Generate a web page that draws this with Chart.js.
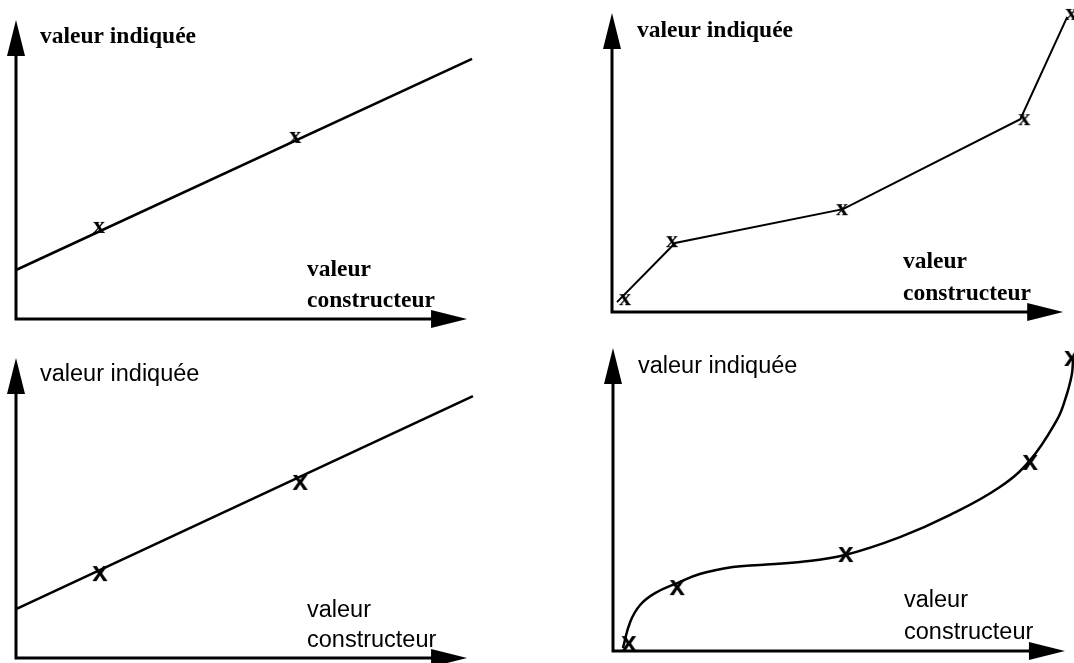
<!DOCTYPE html>
<html>
<head>
<meta charset="utf-8">
<script src="https://cdn.jsdelivr.net/npm/chart.js@4"></script>
<style>
  html, body { margin: 0; padding: 0; background: #fff; overflow: hidden; }
  #wrap { position: relative; width: 1074px; height: 663px; }
  canvas { position: absolute; }
</style>
</head>
<body>
<div id="wrap">
  <canvas id="c1" width="537" height="331" style="left:0;top:0"></canvas>
  <canvas id="c2" width="537" height="331" style="left:537px;top:0"></canvas>
  <canvas id="c3" width="537" height="332" style="left:0;top:331px"></canvas>
  <canvas id="c4" width="537" height="332" style="left:537px;top:331px"></canvas>
</div>
<script>
// Axis texts
const yTitle = 'valeur indiquée';
const xTitle = ['valeur', 'constructeur'];

// where the arrow heads sit (axis units)
const arrowTip = [100, 100];

// Panel 1 : straight line, two marks (serif)
const p1LineX = [0, 101.1];
const p1LineY = [16.4, 87.0];
const p1MarkX = [18.4, 61.9];
const p1MarkY = [30.8, 60.9];

// Panel 2 : broken line (serif)
const p2LineX = [1.1, 14.0, 51.2, 90.5, 100.9];
const p2LineY = [3.3, 23.1, 34.4, 64.5, 98.7];
const p2MarkX = [2.9, 13.3, 51.0, 91.4, 101.8];
const p2MarkY = [4.3, 23.7, 34.4, 64.5, 99.7];

// Panel 3 : straight line, two marks (sans)
const p3LineX = [0, 101.3];
const p3LineY = [16.3, 87.3];
const p3MarkX = [18.6, 63.0];
const p3MarkY = [28.3, 58.7];

// Panel 4 : smooth curve (sans)
const p4LineX = [2.2, 3.8, 6.0, 9.3, 14.2, 19.2, 26.5, 32.5, 41.4, 51.3, 63.5, 74.6, 85.6, 92.3, 98.2, 100.0, 101.5, 101.8];
const p4LineY = [1.0, 9.6, 15.2, 19.1, 22.4, 25.4, 27.7, 28.4, 29.4, 31.7, 37.6, 44.9, 54.1, 63.0, 76.2, 82.8, 91.1, 96.7];
const p4MarkX = [3.5, 14.2, 51.5, 92.3, 101.5];
const p4MarkY = [2.6, 21.1, 32.0, 62.4, 96.7];

// "x" glyph used as point style
function makeMarker(font) {
  const c = document.createElement('canvas');
  c.width = 36; c.height = 36;
  const g = c.getContext('2d');
  g.font = font;
  g.fillStyle = '#000';
  g.textAlign = 'center';
  const m = g.measureText('x');
  g.fillText('x', 18, 18 + (m.actualBoundingBoxAscent - m.actualBoundingBoxDescent) / 2);
  return c;
}

// axes with arrow heads + axis texts
const arrowAxes = {
  id: 'arrowAxes',
  beforeDatasetsDraw(chart, args, o) {
    const ctx = chart.ctx, xs = chart.scales.x, ys = chart.scales.y;
    const x0 = xs.getPixelForValue(0), y0 = ys.getPixelForValue(0);
    const xt = xs.getPixelForValue(arrowTip[0]), yt = ys.getPixelForValue(arrowTip[1]);
    const len = 36, hw = 9;
    ctx.save();
    ctx.strokeStyle = '#000';
    ctx.fillStyle = '#000';
    ctx.lineWidth = 3;
    ctx.lineCap = 'square';
    ctx.beginPath();
    ctx.moveTo(x0, yt + len);
    ctx.lineTo(x0, y0);
    ctx.lineTo(xt - len, y0);
    ctx.stroke();
    // y arrow
    ctx.beginPath();
    ctx.moveTo(x0, yt);
    ctx.lineTo(x0 - hw, yt + len);
    ctx.lineTo(x0 + hw, yt + len);
    ctx.closePath();
    ctx.fill();
    // x arrow
    ctx.beginPath();
    ctx.moveTo(xt, y0);
    ctx.lineTo(xt - len, y0 - hw);
    ctx.lineTo(xt - len, y0 + hw);
    ctx.closePath();
    ctx.fill();
    ctx.restore();
  },
  afterDraw(chart, args, o) {
    const ctx = chart.ctx, xs = chart.scales.x, ys = chart.scales.y;
    const x0 = xs.getPixelForValue(0), y0 = ys.getPixelForValue(0);
    const yt = ys.getPixelForValue(arrowTip[1]);
    ctx.save();
    ctx.fillStyle = '#000';
    ctx.font = o.font;
    ctx.textAlign = 'left';
    ctx.textBaseline = 'alphabetic';
    ctx.fillText(yTitle, x0 + o.yTextDx, yt + o.yTextDy);
    ctx.fillText(xTitle[0], x0 + 291, y0 + o.xTextDy[0]);
    ctx.fillText(xTitle[1], x0 + 291, y0 + o.xTextDy[1]);
    ctx.restore();
  }
};

function makeChart(id, pad, xMax, lineX, lineY, markX, markY, cfg) {
  const toPts = (xs, ys) => xs.map((x, i) => ({ x: x, y: ys[i] }));
  new Chart(document.getElementById(id), {
    type: 'scatter',
    data: {
      datasets: [
        {
          data: toPts(lineX, lineY),
          showLine: true,
          borderColor: '#000',
          borderWidth: cfg.lineWidth,
          pointRadius: 0,
          tension: cfg.smooth ? 0.4 : 0,
          clip: false
        },
        {
          data: toPts(markX, markY),
          pointStyle: cfg.marker,
          pointRadius: 10,
          clip: false
        }
      ]
    },
    options: {
      responsive: false,
      animation: false,
      events: [],
      layout: { padding: pad, autoPadding: false },
      scales: {
        x: { type: 'linear', min: 0, max: xMax, display: false },
        y: { type: 'linear', min: 0, max: 100, display: false }
      },
      plugins: {
        legend: { display: false },
        tooltip: { enabled: false },
        arrowAxes: {
          font: cfg.font,
          yTextDx: cfg.yTextDx,
          yTextDy: cfg.yTextDy,
          xTextDy: cfg.xTextDy
        }
      }
    },
    plugins: [arrowAxes]
  });
}

const serifFont = 'bold 23.5px "Liberation Serif"';
const sansFont = '23.5px "Liberation Sans"';
const serifMark = makeMarker('bold 24px "Liberation Serif"');
const sansMark = makeMarker('bold 28px "Liberation Sans"');

makeChart('c1', { left: 16, top: 20, right: 60, bottom: 12 }, 102.2, p1LineX, p1LineY, p1MarkX, p1MarkY,
  { lineWidth: 2.6, smooth: false, marker: serifMark, font: serifFont, yTextDx: 24, yTextDy: 23, xTextDy: [-43, -12] });
makeChart('c2', { left: 75, top: 13, right: 0, bottom: 19 }, 102.4, p2LineX, p2LineY, p2MarkX, p2MarkY,
  { lineWidth: 2, smooth: false, marker: serifMark, font: serifFont, yTextDx: 25, yTextDy: 24, xTextDy: [-44, -12] });
makeChart('c3', { left: 16, top: 27, right: 60, bottom: 5 }, 102.2, p3LineX, p3LineY, p3MarkX, p3MarkY,
  { lineWidth: 2.6, smooth: false, marker: sansMark, font: sansFont, yTextDx: 24, yTextDy: 23, xTextDy: [-41, -11] });
makeChart('c4', { left: 76, top: 17, right: 0, bottom: 12 }, 102.0, p4LineX, p4LineY, p4MarkX, p4MarkY,
  { lineWidth: 2.5, smooth: true, marker: sansMark, font: sansFont, yTextDx: 25, yTextDy: 25, xTextDy: [-44, -12] });
</script>
</body>
</html>
